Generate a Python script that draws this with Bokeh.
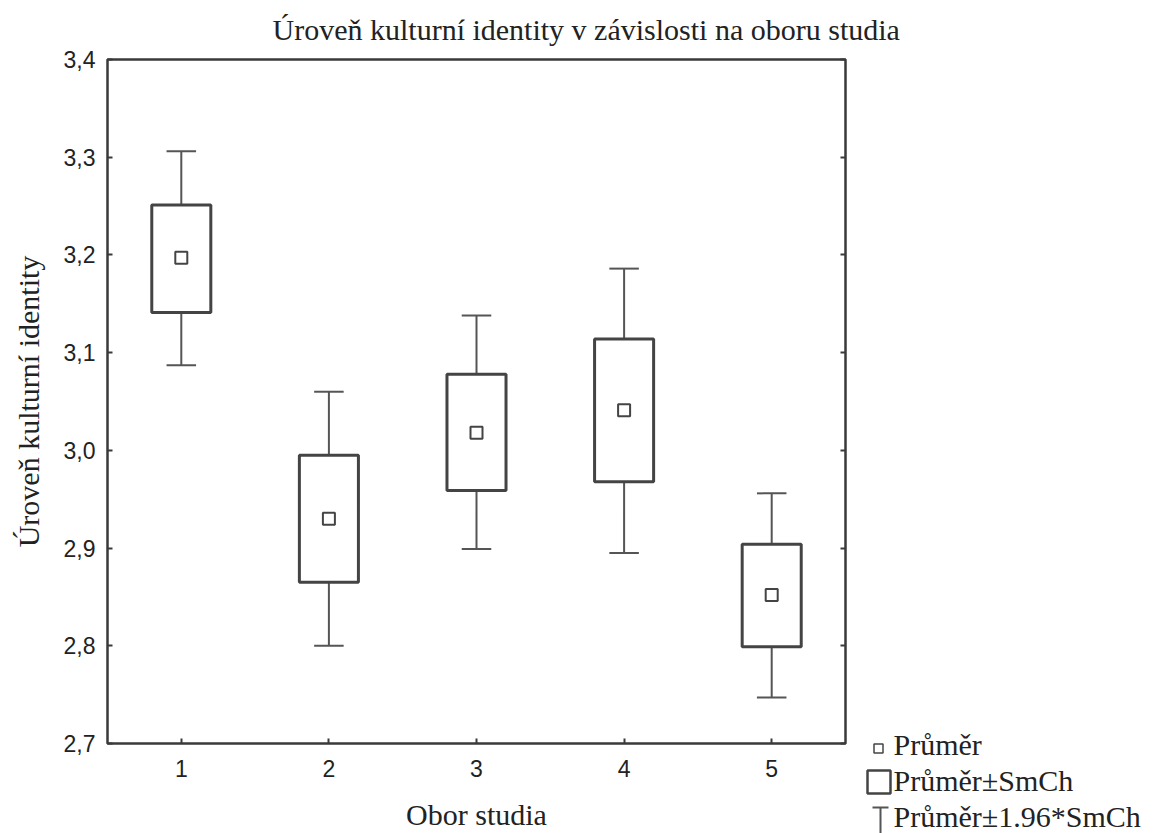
from bokeh.plotting import figure
from bokeh.models import Range1d, FixedTicker, LinearAxis, CustomLabelingPolicy
from bokeh.layouts import row, column
from bokeh.core.properties import value
from bokeh.embed import file_html
from bokeh.resources import INLINE

# ---- data ----
categories = [1, 2, 3, 4, 5]
x_tick_labels = ["1", "2", "3", "4", "5"]
means = [3.197, 2.930, 3.018, 3.041, 2.852]
se_lo = [3.141, 2.865, 2.959, 2.968, 2.799]
se_hi = [3.251, 2.995, 3.078, 3.114, 2.904]
ci_lo = [3.087, 2.800, 2.899, 2.895, 2.747]
ci_hi = [3.306, 3.060, 3.138, 3.186, 2.956]
y_ticks = [2.7, 2.8, 2.9, 3.0, 3.1, 3.2, 3.3, 3.4]
y_tick_labels = ["2,7", "2,8", "2,9", "3,0", "3,1", "3,2", "3,3", "3,4"]
legend_labels = ["Průměr", "Průměr±SmCh", "Průměr±1.96*SmCh"]

title_text = "Úroveň kulturní identity v závislosti na oboru studia"
x_label = "Obor studia"
y_label = "Úroveň kulturní identity"

SERIF = "Liberation Serif"
SANS = "Liberation Sans"
DARK = "#3a3a3a"
BOXC = "#444444"
WHC = "#555555"
TXT = "#222222"

box_half = 0.2
cap_half = 0.1

W, H = 1162, 833
TITLE_H = 48
MAIN_W = 863
BODY_H = H - TITLE_H
BASE_FIX = 12  # text glyph baseline correction (px)


def bare(fig):
    fig.grid.visible = False
    fig.outline_line_color = None
    fig.background_fill_color = "white"
    fig.border_fill_color = "white"
    fig.title.visible = False
    fig.frame_align = False


# ---- title strip (pixel coordinates) ----
tf = figure(width=W, height=TITLE_H, x_range=Range1d(0, W), y_range=Range1d(TITLE_H, 0),
            output_backend="svg", toolbar_location=None, min_border=0,
            x_axis_location=None, y_axis_location=None)
bare(tf)
tf.text(x=[272], y=[41 - BASE_FIX], text=[title_text], text_font=value(SERIF),
        text_font_size="30px", text_color=TXT, text_align="left", text_baseline="alphabetic")

# ---- main plot ----
p = figure(width=MAIN_W, height=BODY_H, x_range=Range1d(0.5, 5.5), y_range=Range1d(2.7, 3.4),
           output_backend="svg", toolbar_location=None,
           min_border_left=107, min_border_right=10, min_border_top=59 - TITLE_H,
           min_border_bottom=87)
p.frame_align = False
p.title.visible = False
p.grid.visible = False
p.outline_line_color = DARK
p.outline_line_width = 2.5
p.background_fill_color = "white"
p.border_fill_color = "white"

# x axis
xa = p.xaxis[0]
xa.ticker = FixedTicker(ticks=categories)
xa.major_label_overrides = dict(zip(categories, x_tick_labels))
xa.axis_line_color = None
xa.major_tick_in = 5
xa.major_tick_out = 0
xa.minor_tick_line_color = None
xa.major_tick_line_width = 2
xa.major_tick_line_color = DARK
xa.major_label_text_font = SANS
xa.major_label_text_font_size = "23px"
xa.major_label_text_color = TXT
xa.major_label_standoff = 16
xa.axis_label = x_label
xa.axis_label_text_font = SERIF
xa.axis_label_text_font_size = "30px"
xa.axis_label_text_font_style = "normal"
xa.axis_label_text_color = TXT
xa.axis_label_standoff = 18

# y axis
ya = p.yaxis[0]
ya.ticker = FixedTicker(ticks=y_ticks)
ya.major_label_overrides = dict(zip(y_ticks, y_tick_labels))
ya.axis_line_color = None
ya.major_tick_in = 5
ya.major_tick_out = 0
ya.minor_tick_line_color = None
ya.major_tick_line_width = 2
ya.major_tick_line_color = DARK
ya.major_label_text_font = SANS
ya.major_label_text_font_size = "23px"
ya.major_label_text_color = TXT
ya.major_label_standoff = 12
ya.axis_label = y_label
ya.axis_label_text_font = SERIF
ya.axis_label_text_font_size = "30px"
ya.axis_label_text_font_style = "normal"
ya.axis_label_text_color = TXT
ya.axis_label_standoff = 16

# right axis (ticks only, no labels)
no_labels = CustomLabelingPolicy(code="""
try { indices.clear() } catch (e) { for (const i of Array.from(indices.ones())) indices.unset(i) }
return indices
""")
ra = LinearAxis(ticker=FixedTicker(ticks=y_ticks), axis_line_color=None,
                major_tick_in=5, major_tick_out=0, minor_tick_line_color=None,
                major_tick_line_width=2, major_tick_line_color=DARK,
                major_label_policy=no_labels, major_label_standoff=0)
p.add_layout(ra, "right")

# whiskers
p.segment(x0=categories, y0=se_hi, x1=categories, y1=ci_hi, line_color=WHC, line_width=2)
p.segment(x0=categories, y0=se_lo, x1=categories, y1=ci_lo, line_color=WHC, line_width=2)
p.segment(x0=[c - cap_half for c in categories], y0=ci_hi,
          x1=[c + cap_half for c in categories], y1=ci_hi, line_color=WHC, line_width=2)
p.segment(x0=[c - cap_half for c in categories], y0=ci_lo,
          x1=[c + cap_half for c in categories], y1=ci_lo, line_color=WHC, line_width=2)
# boxes
p.quad(left=[c - box_half for c in categories], right=[c + box_half for c in categories],
       bottom=se_lo, top=se_hi, fill_color="white", line_color=BOXC, line_width=3)
# means
p.scatter(x=categories, y=means, marker="square", size=12, fill_color="white",
          line_color=BOXC, line_width=2)

# ---- legend panel (pixel coordinates) ----
LW = W - MAIN_W
leg = figure(width=LW, height=BODY_H, x_range=Range1d(0, LW), y_range=Range1d(BODY_H, 0),
             output_backend="svg", toolbar_location=None, min_border=0,
             x_axis_location=None, y_axis_location=None)
bare(leg)

oy = TITLE_H
leg.scatter(x=[15], y=[748 - oy], marker="square", size=9, fill_color="white",
            line_color=BOXC, line_width=1.5)
leg.quad(left=[4], right=[27], top=[770 - oy], bottom=[793 - oy], fill_color="white",
         line_color=BOXC, line_width=2.5)
leg.segment(x0=[9, 17], y0=[807 - oy, 807 - oy], x1=[25, 17], y1=[807 - oy, 834 - oy],
            line_color=WHC, line_width=2)
leg.text(x=[30, 30, 30], y=[756 - oy - BASE_FIX, 792 - oy - BASE_FIX, 828 - oy - BASE_FIX],
         text=legend_labels, text_font=value(SERIF), text_font_size="30px", text_color=TXT,
         text_align="left", text_baseline="alphabetic")

layout = column(tf, row(p, leg, spacing=0), spacing=0)
open("out.html", "w").write(file_html(layout, INLINE))
